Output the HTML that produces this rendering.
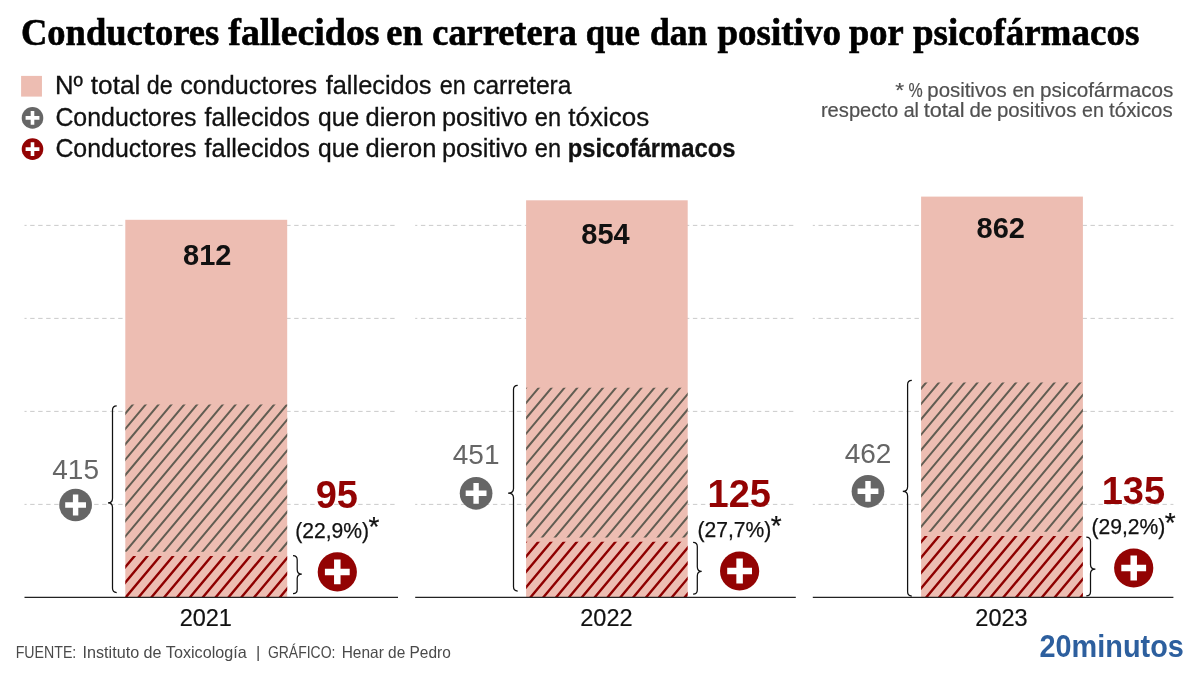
<!DOCTYPE html>
<html lang="es"><head><meta charset="utf-8"><title>Conductores fallecidos en carretera que dan positivo por psicofármacos</title>
<style>
html,body{margin:0;padding:0;background:#fff;}
body{width:1200px;height:675px;overflow:hidden;}
svg{display:block;}
text{font-family:"Liberation Sans",sans-serif;white-space:pre;}
.title{font-family:"Liberation Serif",serif;font-weight:bold;fill:#000;font-size:37px;stroke:#000;stroke-width:0.6px;}
.leg{font-size:25px;fill:#111;stroke:#111;stroke-width:0.3px;}
.note{font-size:20px;fill:#505050;stroke:#505050;stroke-width:0.2px;}
.tot{font-size:29px;font-weight:bold;fill:#111;}
.tox{font-size:28px;fill:#666;}
.psi{font-size:38px;font-weight:bold;fill:#930303;}
.pct{font-size:21.5px;fill:#111;stroke:#111;stroke-width:0.25px;}
.ast{font-size:28px;}
.b{font-weight:bold;}
.year{font-size:23.5px;fill:#111;stroke:#111;stroke-width:0.2px;}
.src{font-size:16.5px;fill:#4a4a4a;}
.logo{font-size:31px;font-weight:bold;fill:#2d5f9e;}
</style></head><body>
<svg width="1200" height="675" viewBox="0 0 1200 675">
<rect width="1200" height="675" fill="#fff"/>

<text class="title" y="45.2"><tspan x="21.0" textLength="198.1" lengthAdjust="spacingAndGlyphs">Conductores</tspan> <tspan x="228.3" textLength="151.2" lengthAdjust="spacingAndGlyphs">fallecidos</tspan> <tspan x="386.3" textLength="36.4" lengthAdjust="spacingAndGlyphs">en</tspan> <tspan x="432.3" textLength="144.6" lengthAdjust="spacingAndGlyphs">carretera</tspan> <tspan x="585.8" textLength="54.1" lengthAdjust="spacingAndGlyphs">que</tspan> <tspan x="650.0" textLength="57.3" lengthAdjust="spacingAndGlyphs">dan</tspan> <tspan x="717.5" textLength="123.4" lengthAdjust="spacingAndGlyphs">positivo</tspan> <tspan x="848.9" textLength="54.1" lengthAdjust="spacingAndGlyphs">por</tspan> <tspan x="913.0" textLength="226.4" lengthAdjust="spacingAndGlyphs">psicofármacos</tspan></text>
<rect x="21.1" y="75.9" width="20.85" height="20.7" fill="#edbdb2"/>
<circle cx="32.5" cy="117.9" r="10.8" fill="#666666"/><path d="M25.60,116.10h5.10v-5.10h3.60v5.10h5.10v3.60h-5.10v5.10h-3.60v-5.10h-5.10z" fill="#fff"/>
<circle cx="32.5" cy="149.1" r="10.8" fill="#930303"/><path d="M25.60,147.30h5.10v-5.10h3.60v5.10h5.10v3.60h-5.10v5.10h-3.60v-5.10h-5.10z" fill="#fff"/>
<text class="leg" y="93.7"><tspan x="54.9" textLength="27.9" lengthAdjust="spacingAndGlyphs">Nº</tspan> <tspan x="90.8" textLength="49.5" lengthAdjust="spacingAndGlyphs">total</tspan> <tspan x="146.8" textLength="25.9" lengthAdjust="spacingAndGlyphs">de</tspan> <tspan x="180.3" textLength="136.8" lengthAdjust="spacingAndGlyphs">conductores</tspan> <tspan x="325.7" textLength="105.8" lengthAdjust="spacingAndGlyphs">fallecidos</tspan> <tspan x="439.7" textLength="25.9" lengthAdjust="spacingAndGlyphs">en</tspan> <tspan x="473.1" textLength="98.4" lengthAdjust="spacingAndGlyphs">carretera</tspan></text>
<text class="leg" y="125.7"><tspan x="55.4" textLength="141.1" lengthAdjust="spacingAndGlyphs">Conductores</tspan> <tspan x="204.6" textLength="105.2" lengthAdjust="spacingAndGlyphs">fallecidos</tspan> <tspan x="318.0" textLength="41.1" lengthAdjust="spacingAndGlyphs">que</tspan> <tspan x="365.5" textLength="70.8" lengthAdjust="spacingAndGlyphs">dieron</tspan> <tspan x="441.9" textLength="85.8" lengthAdjust="spacingAndGlyphs">positivo</tspan> <tspan x="534.8" textLength="26.2" lengthAdjust="spacingAndGlyphs">en</tspan> <tspan x="568.3" textLength="80.9" lengthAdjust="spacingAndGlyphs">tóxicos</tspan></text>
<text class="leg" y="156.9"><tspan x="55.4" textLength="141.1" lengthAdjust="spacingAndGlyphs">Conductores</tspan> <tspan x="204.6" textLength="105.2" lengthAdjust="spacingAndGlyphs">fallecidos</tspan> <tspan x="318.0" textLength="41.1" lengthAdjust="spacingAndGlyphs">que</tspan> <tspan x="365.5" textLength="70.8" lengthAdjust="spacingAndGlyphs">dieron</tspan> <tspan x="441.9" textLength="85.8" lengthAdjust="spacingAndGlyphs">positivo</tspan> <tspan x="534.8" textLength="26.2" lengthAdjust="spacingAndGlyphs">en</tspan> <tspan class="b" x="567.7" textLength="167.7" lengthAdjust="spacingAndGlyphs">psicofármacos</tspan></text>
<text class="note" y="97.0"><tspan x="895.2" textLength="8.9" lengthAdjust="spacingAndGlyphs">*</tspan> <tspan x="908.6" textLength="14.2" lengthAdjust="spacingAndGlyphs">%</tspan> <tspan x="927.3" textLength="79.3" lengthAdjust="spacingAndGlyphs">positivos</tspan> <tspan x="1012.4" textLength="22.4" lengthAdjust="spacingAndGlyphs">en</tspan> <tspan x="1040.0" textLength="133.4" lengthAdjust="spacingAndGlyphs">psicofármacos</tspan></text>
<text class="note" y="117.4"><tspan x="820.9" textLength="77.3" lengthAdjust="spacingAndGlyphs">respecto</tspan> <tspan x="903.7" textLength="15.3" lengthAdjust="spacingAndGlyphs">al</tspan> <tspan x="923.7" textLength="41.0" lengthAdjust="spacingAndGlyphs">total</tspan> <tspan x="969.4" textLength="22.7" lengthAdjust="spacingAndGlyphs">de</tspan> <tspan x="996.9" textLength="79.5" lengthAdjust="spacingAndGlyphs">positivos</tspan> <tspan x="1082.1" textLength="21.8" lengthAdjust="spacingAndGlyphs">en</tspan> <tspan x="1109.1" textLength="63.6" lengthAdjust="spacingAndGlyphs">tóxicos</tspan></text>
<line x1="24.5" x2="398" y1="504.4" y2="504.4" stroke="#bcbcbc" stroke-width="0.8" stroke-dasharray="4.4 3.6" stroke-dashoffset="2.3"/>
<line x1="24.5" x2="398" y1="411.4" y2="411.4" stroke="#bcbcbc" stroke-width="0.8" stroke-dasharray="4.4 3.6" stroke-dashoffset="2.3"/>
<line x1="24.5" x2="398" y1="318.4" y2="318.4" stroke="#bcbcbc" stroke-width="0.8" stroke-dasharray="4.4 3.6" stroke-dashoffset="2.3"/>
<line x1="24.5" x2="398" y1="225.4" y2="225.4" stroke="#bcbcbc" stroke-width="0.8" stroke-dasharray="4.4 3.6" stroke-dashoffset="2.3"/>
<rect x="125.3" y="219.8" width="161.9" height="377.6" fill="#edbdb2"/>
<clipPath id="c0a"><rect x="125.30" y="404.42" width="161.90" height="147.28"/></clipPath><path clip-path="url(#c0a)" d="M-18.51,554.70L109.75,401.42M-5.66,554.70L122.60,401.42M7.19,554.70L135.45,401.42M20.04,554.70L148.30,401.42M32.89,554.70L161.15,401.42M45.74,554.70L174.00,401.42M58.59,554.70L186.85,401.42M71.44,554.70L199.70,401.42M84.29,554.70L212.55,401.42M97.14,554.70L225.40,401.42M109.99,554.70L238.25,401.42M122.84,554.70L251.10,401.42M135.69,554.70L263.95,401.42M148.54,554.70L276.80,401.42M161.39,554.70L289.65,401.42M174.24,554.70L302.50,401.42M187.09,554.70L315.35,401.42M199.94,554.70L328.20,401.42M212.79,554.70L341.05,401.42M225.64,554.70L353.90,401.42M238.49,554.70L366.75,401.42M251.34,554.70L379.60,401.42M264.19,554.70L392.45,401.42M277.04,554.70L405.30,401.42M289.89,554.70L418.15,401.42M302.74,554.70L431.00,401.42" stroke="#625d52" stroke-width="2.0" fill="none"/>
<clipPath id="c0b"><rect x="125.30" y="556.10" width="161.90" height="41.30"/></clipPath><path clip-path="url(#c0b)" d="M71.75,600.40L111.33,553.10M84.60,600.40L124.18,553.10M97.45,600.40L137.03,553.10M110.30,600.40L149.88,553.10M123.15,600.40L162.73,553.10M136.00,600.40L175.58,553.10M148.85,600.40L188.43,553.10M161.70,600.40L201.28,553.10M174.55,600.40L214.13,553.10M187.40,600.40L226.98,553.10M200.25,600.40L239.83,553.10M213.10,600.40L252.68,553.10M225.95,600.40L265.53,553.10M238.80,600.40L278.38,553.10M251.65,600.40L291.23,553.10M264.50,600.40L304.08,553.10M277.35,600.40L316.93,553.10M290.20,600.40L329.78,553.10M303.05,600.40L342.63,553.10" stroke="#8e0000" stroke-width="2.4" fill="none"/>
<line x1="24.5" x2="398" y1="597.4" y2="597.4" stroke="#222" stroke-width="1.2"/>
<text class="tot" x="207.2" y="264.8" text-anchor="middle">812</text>
<text class="year" x="205.8" y="625.8" text-anchor="middle">2021</text>
<path d="M116.7,405.9 Q112.5,405.9 112.5,410.1 L112.5,498.2 Q112.5,502.8 108.0,502.8 Q112.5,502.8 112.5,507.4 L112.5,588.3 Q112.5,592.5 116.7,592.5" fill="none" stroke="#111" stroke-width="1.25"/>
<path d="M293.0,555.5 Q297.2,555.5 297.2,559.7 L297.2,569.4 Q297.2,574.0 301.8,574.0 Q297.2,574.0 297.2,578.6 L297.2,589.5 Q297.2,593.7 293.0,593.7" fill="none" stroke="#111" stroke-width="1.25"/>
<text class="tox" x="75.6" y="478.7" text-anchor="middle">415</text>
<circle cx="75.6" cy="505" r="16.35" fill="#666666"/><path d="M65.20,502.30h7.70v-7.70h5.40v7.70h7.70v5.40h-7.70v7.70h-5.40v-7.70h-7.70z" fill="#fff"/>
<text class="psi" x="336.8" y="507.7" text-anchor="middle">95</text>
<text class="pct" y="537.5"><tspan x="295.2" textLength="73.9" lengthAdjust="spacingAndGlyphs">(22,9%)</tspan><tspan class="ast" dy="-2" x="368.5">*</tspan></text>
<circle cx="337.3" cy="571.9" r="19.6" fill="#930303"/><path d="M324.90,568.65h9.15v-9.15h6.50v9.15h9.15v6.50h-9.15v9.15h-6.50v-9.15h-9.15z" fill="#fff"/>
<line x1="415.2" x2="795.8" y1="504.4" y2="504.4" stroke="#bcbcbc" stroke-width="0.8" stroke-dasharray="4.4 3.6" stroke-dashoffset="2.3"/>
<line x1="415.2" x2="795.8" y1="411.4" y2="411.4" stroke="#bcbcbc" stroke-width="0.8" stroke-dasharray="4.4 3.6" stroke-dashoffset="2.3"/>
<line x1="415.2" x2="795.8" y1="318.4" y2="318.4" stroke="#bcbcbc" stroke-width="0.8" stroke-dasharray="4.4 3.6" stroke-dashoffset="2.3"/>
<line x1="415.2" x2="795.8" y1="225.4" y2="225.4" stroke="#bcbcbc" stroke-width="0.8" stroke-dasharray="4.4 3.6" stroke-dashoffset="2.3"/>
<rect x="526.1" y="200.3" width="161.6" height="397.1" fill="#edbdb2"/>
<clipPath id="c1a"><rect x="526.10" y="387.68" width="161.60" height="149.72"/></clipPath><path clip-path="url(#c1a)" d="M385.37,540.40L515.67,384.68M398.22,540.40L528.52,384.68M411.07,540.40L541.37,384.68M423.92,540.40L554.22,384.68M436.77,540.40L567.07,384.68M449.62,540.40L579.92,384.68M462.47,540.40L592.77,384.68M475.32,540.40L605.62,384.68M488.17,540.40L618.47,384.68M501.02,540.40L631.32,384.68M513.87,540.40L644.17,384.68M526.72,540.40L657.02,384.68M539.57,540.40L669.87,384.68M552.42,540.40L682.72,384.68M565.27,540.40L695.57,384.68M578.12,540.40L708.42,384.68M590.97,540.40L721.27,384.68M603.82,540.40L734.12,384.68M616.67,540.40L746.97,384.68M629.52,540.40L759.82,384.68M642.37,540.40L772.67,384.68M655.22,540.40L785.52,384.68M668.07,540.40L798.37,384.68M680.92,540.40L811.22,384.68M693.77,540.40L824.07,384.68M706.62,540.40L836.92,384.68" stroke="#625d52" stroke-width="2.0" fill="none"/>
<clipPath id="c1b"><rect x="526.10" y="541.70" width="161.60" height="55.70"/></clipPath><path clip-path="url(#c1b)" d="M463.66,600.40L515.29,538.70M476.51,600.40L528.14,538.70M489.36,600.40L540.99,538.70M502.21,600.40L553.84,538.70M515.06,600.40L566.69,538.70M527.91,600.40L579.54,538.70M540.76,600.40L592.39,538.70M553.61,600.40L605.24,538.70M566.46,600.40L618.09,538.70M579.31,600.40L630.94,538.70M592.16,600.40L643.79,538.70M605.01,600.40L656.64,538.70M617.86,600.40L669.49,538.70M630.71,600.40L682.34,538.70M643.56,600.40L695.19,538.70M656.41,600.40L708.04,538.70M669.26,600.40L720.89,538.70M682.11,600.40L733.74,538.70M694.96,600.40L746.59,538.70M707.81,600.40L759.44,538.70" stroke="#8e0000" stroke-width="2.4" fill="none"/>
<line x1="415.2" x2="795.8" y1="597.4" y2="597.4" stroke="#222" stroke-width="1.2"/>
<text class="tot" x="605.5" y="244.1" text-anchor="middle">854</text>
<text class="year" x="606.4" y="625.8" text-anchor="middle">2022</text>
<path d="M517.7,385.3 Q513.5,385.3 513.5,389.5 L513.5,488.6 Q513.5,493.2 508.1,493.2 Q513.5,493.2 513.5,497.8 L513.5,586.8 Q513.5,591.0 517.7,591.0" fill="none" stroke="#111" stroke-width="1.25"/>
<path d="M693.1,542.3 Q697.3,542.3 697.3,546.5 L697.3,566.8 Q697.3,571.4 701.7,571.4 Q697.3,571.4 697.3,576.0 L697.3,590.0 Q697.3,594.2 693.1,594.2" fill="none" stroke="#111" stroke-width="1.25"/>
<text class="tox" x="476.1" y="464.4" text-anchor="middle">451</text>
<circle cx="476.1" cy="493.3" r="16.35" fill="#666666"/><path d="M465.70,490.60h7.70v-7.70h5.40v7.70h7.70v5.40h-7.70v7.70h-5.40v-7.70h-7.70z" fill="#fff"/>
<text class="psi" x="739.3" y="506.5" text-anchor="middle">125</text>
<text class="pct" y="537.1"><tspan x="697.4" textLength="73.9" lengthAdjust="spacingAndGlyphs">(27,7%)</tspan><tspan class="ast" dy="-2" x="770.7">*</tspan></text>
<circle cx="739.6" cy="571" r="19.6" fill="#930303"/><path d="M727.20,567.75h9.15v-9.15h6.50v9.15h9.15v6.50h-9.15v9.15h-6.50v-9.15h-9.15z" fill="#fff"/>
<line x1="812.8" x2="1173.4" y1="504.4" y2="504.4" stroke="#bcbcbc" stroke-width="0.8" stroke-dasharray="4.4 3.6" stroke-dashoffset="2.3"/>
<line x1="812.8" x2="1173.4" y1="411.4" y2="411.4" stroke="#bcbcbc" stroke-width="0.8" stroke-dasharray="4.4 3.6" stroke-dashoffset="2.3"/>
<line x1="812.8" x2="1173.4" y1="318.4" y2="318.4" stroke="#bcbcbc" stroke-width="0.8" stroke-dasharray="4.4 3.6" stroke-dashoffset="2.3"/>
<line x1="812.8" x2="1173.4" y1="225.4" y2="225.4" stroke="#bcbcbc" stroke-width="0.8" stroke-dasharray="4.4 3.6" stroke-dashoffset="2.3"/>
<rect x="921.1" y="196.6" width="161.8" height="400.8" fill="#edbdb2"/>
<clipPath id="c2a"><rect x="921.10" y="382.57" width="161.80" height="149.23"/></clipPath><path clip-path="url(#c2a)" d="M773.02,534.80L902.92,379.57M785.87,534.80L915.77,379.57M798.72,534.80L928.62,379.57M811.57,534.80L941.47,379.57M824.42,534.80L954.32,379.57M837.27,534.80L967.17,379.57M850.12,534.80L980.02,379.57M862.97,534.80L992.87,379.57M875.82,534.80L1005.72,379.57M888.67,534.80L1018.57,379.57M901.52,534.80L1031.42,379.57M914.37,534.80L1044.27,379.57M927.22,534.80L1057.12,379.57M940.07,534.80L1069.97,379.57M952.92,534.80L1082.82,379.57M965.77,534.80L1095.67,379.57M978.62,534.80L1108.52,379.57M991.47,534.80L1121.37,379.57M1004.32,534.80L1134.22,379.57M1017.17,534.80L1147.07,379.57M1030.02,534.80L1159.92,379.57M1042.87,534.80L1172.77,379.57M1055.72,534.80L1185.62,379.57M1068.57,534.80L1198.47,379.57M1081.42,534.80L1211.32,379.57M1094.27,534.80L1224.17,379.57" stroke="#625d52" stroke-width="2.0" fill="none"/>
<clipPath id="c2b"><rect x="921.10" y="536.00" width="161.80" height="61.40"/></clipPath><path clip-path="url(#c2b)" d="M846.63,600.40L903.03,533.00M859.48,600.40L915.88,533.00M872.33,600.40L928.73,533.00M885.18,600.40L941.58,533.00M898.03,600.40L954.43,533.00M910.88,600.40L967.28,533.00M923.73,600.40L980.13,533.00M936.58,600.40L992.98,533.00M949.43,600.40L1005.83,533.00M962.28,600.40L1018.68,533.00M975.13,600.40L1031.53,533.00M987.98,600.40L1044.38,533.00M1000.83,600.40L1057.23,533.00M1013.68,600.40L1070.08,533.00M1026.53,600.40L1082.93,533.00M1039.38,600.40L1095.78,533.00M1052.23,600.40L1108.63,533.00M1065.08,600.40L1121.48,533.00M1077.93,600.40L1134.33,533.00M1090.78,600.40L1147.18,533.00M1103.63,600.40L1160.03,533.00" stroke="#8e0000" stroke-width="2.4" fill="none"/>
<line x1="812.8" x2="1173.4" y1="597.4" y2="597.4" stroke="#222" stroke-width="1.2"/>
<text class="tot" x="1000.8" y="237.9" text-anchor="middle">862</text>
<text class="year" x="1001.5" y="625.8" text-anchor="middle">2023</text>
<path d="M911.8,380.3 Q907.6,380.3 907.6,384.5 L907.6,486.7 Q907.6,491.3 902.8,491.3 Q907.6,491.3 907.6,495.9 L907.6,591.8 Q907.6,596.0 911.8,596.0" fill="none" stroke="#111" stroke-width="1.25"/>
<path d="M1086.3,537.2 Q1090.5,537.2 1090.5,541.4 L1090.5,564.6 Q1090.5,569.2 1095.4,569.2 Q1090.5,569.2 1090.5,573.8 L1090.5,591.7 Q1090.5,595.9 1086.3,595.9" fill="none" stroke="#111" stroke-width="1.25"/>
<text class="tox" x="868" y="462.7" text-anchor="middle">462</text>
<circle cx="868" cy="491.3" r="16.35" fill="#666666"/><path d="M857.60,488.60h7.70v-7.70h5.40v7.70h7.70v5.40h-7.70v7.70h-5.40v-7.70h-7.70z" fill="#fff"/>
<text class="psi" x="1133.4" y="503.5" text-anchor="middle">135</text>
<text class="pct" y="533.7"><tspan x="1091.5" textLength="73.9" lengthAdjust="spacingAndGlyphs">(29,2%)</tspan><tspan class="ast" dy="-2" x="1164.8">*</tspan></text>
<circle cx="1133.7" cy="568" r="19.6" fill="#930303"/><path d="M1121.30,564.75h9.15v-9.15h6.50v9.15h9.15v6.50h-9.15v9.15h-6.50v-9.15h-9.15z" fill="#fff"/>
<text class="src" y="657.5"><tspan x="15.7" textLength="60.6" lengthAdjust="spacingAndGlyphs">FUENTE:</tspan> <tspan x="82.5" textLength="164.2" lengthAdjust="spacingAndGlyphs">Instituto de Toxicología</tspan>  <tspan x="255.9">|</tspan>  <tspan x="267.9" textLength="67.5" lengthAdjust="spacingAndGlyphs">GRÁFICO:</tspan> <tspan x="341.7" textLength="109.1" lengthAdjust="spacingAndGlyphs">Henar de Pedro</tspan></text>
<text class="logo" y="656.6"><tspan x="1039.5" textLength="144.3" lengthAdjust="spacingAndGlyphs">20minutos</tspan></text>
</svg></body></html>
